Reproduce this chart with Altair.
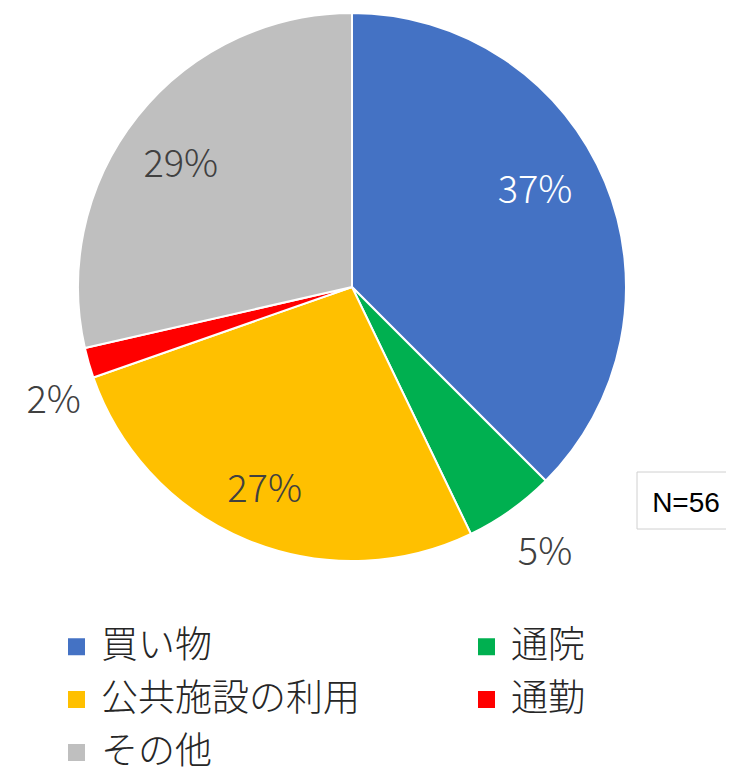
import altair as alt
import pandas as pd

categories = ["買い物", "通院", "公共施設の利用", "通勤", "その他"]
counts = [21, 3, 15, 1, 16]
pct_labels = ["37%", "5%", "27%", "2%", "29%"]
colors = ["#4472C4", "#00B050", "#FFC000", "#FF0000", "#BFBFBF"]
note = "N=56"

df = pd.DataFrame({
    "cat": categories,
    "n": counts,
    "label": pct_labels,
    "idx": list(range(len(categories))),
})

FONT = "Noto Sans CJK JP"
CX, CY = 344, 279

base = alt.Chart(df).encode(
    theta=alt.Theta("n:Q", stack=True),
    order=alt.Order("idx:Q"),
    x=alt.value(CX),
    y=alt.value(CY),
)

pie = base.mark_arc(outerRadius=274, stroke="white", strokeWidth=2).encode(
    color=alt.Color(
        "cat:N",
        scale=alt.Scale(domain=categories, range=colors),
        sort=categories,
        legend=alt.Legend(
            title=None,
            orient="none",
            direction="horizontal",
            columns=2,
            legendX=50,
            legendY=620,
            symbolType="square",
            symbolSize=289,
            symbolStrokeWidth=0,
            labelFont=FONT,
            labelFontSize=37,
            labelFontWeight=300,
            labelColor="#262626",
            labelOffset=6,
            columnPadding=108,
            rowPadding=15,
            labelLimit=400,
        ),
    )
)


def label_layer(cats, radius, color, dx, dy):
    cond = " || ".join(f"datum.cat == '{c}'" for c in cats)
    return base.transform_calculate(
        t=f"({cond}) ? datum.label : ''"
    ).mark_text(
        radius=radius, font=FONT, fontSize=38, fontWeight=300,
        color=color, dx=dx, dy=dy,
    ).encode(text="t:N")


lab_blue = label_layer([categories[0]], 210, "white", -11, -15)
lab_in = label_layer([categories[2], categories[4]], 210, "#404040", -7, 10)
lab_green = label_layer([categories[1]], 325, "#404040", 5, 2)
lab_red = label_layer([categories[3]], 325, "#404040", 14, 25)

box = alt.Chart(pd.DataFrame({"a": [0]})).mark_rect(
    fill="white", stroke="#D0D0D0", strokeWidth=1
).encode(
    x=alt.value(629), x2=alt.value(724), y=alt.value(464), y2=alt.value(521)
)

box_text = alt.Chart(pd.DataFrame({"t": [note]})).mark_text(
    font="Liberation Sans", fontSize=28, color="black", align="center", baseline="middle"
).encode(text="t:N", x=alt.value(678), y=alt.value(496))

chart = alt.layer(pie, lab_blue, lab_in, lab_green, lab_red, box, box_text).properties(
    width=718, height=765,
    autosize=alt.AutoSizeParams(type="none"),
    padding=0,
).configure_view(stroke=None)

chart.save("out.html", embed_options={"renderer": "svg", "actions": False})
